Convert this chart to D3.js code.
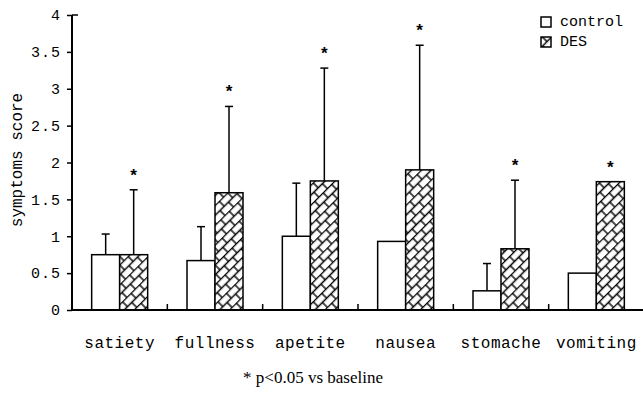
<!DOCTYPE html>
<html>
<head>
<meta charset="utf-8">
<script src="https://cdn.jsdelivr.net/npm/d3@7"></script>
<style>
  html, body { margin: 0; padding: 0; background: #fff; overflow: hidden; }
  svg { display: block; }
  svg text { fill: #000; }
</style>
</head>
<body>
<div id="chart"></div>
<script>
// data
const categories = ["satiety", "fullness", "apetite", "nausea", "stomache", "vomiting"];
const controlValues = [0.75, 0.67, 1.0, 0.93, 0.26, 0.5];
const controlErrors = [0.28, 0.46, 0.72, 0, 0.37, 0];
const desValues = [0.75, 1.59, 1.75, 1.90, 0.83, 1.74];
const desErrors = [0.88, 1.17, 1.53, 1.69, 0.93, 0];
const significant = [true, true, true, true, true, true];
const yTicks = [0, 0.5, 1, 1.5, 2, 2.5, 3, 3.5, 4];
const seriesNames = ["control", "DES"];

const width = 643;
const height = 394;
const margin = { left: 72, right: -1, top: 15, bottom: 84 };
const innerWidth = width - margin.left - margin.right;
const innerHeight = height - margin.top - margin.bottom;

const mono = "'Liberation Mono', 'DejaVu Sans Mono', monospace";

const svg = d3.select("#chart")
  .append("svg")
  .attr("width", width)
  .attr("height", height);

// hatch pattern (diagonal bricks)
const defs = svg.append("defs");
const pat = defs.append("pattern")
  .attr("id", "brick")
  .attr("patternUnits", "userSpaceOnUse")
  .attr("width", 12)
  .attr("height", 14)
  .attr("patternTransform", "rotate(-45)");
pat.append("rect").attr("width", 12).attr("height", 14).attr("fill", "#fff");
pat.append("path")
  .attr("d", "M0,0.5H12 M0,7.5H12 M1,0.5V7.5 M7,7.5V14")
  .attr("stroke", "#000")
  .attr("stroke-width", 1.4)
  .attr("fill", "none");

const g = svg.append("g")
  .attr("transform", `translate(${margin.left}, ${margin.top})`);

const x = d3.scaleBand()
  .domain(categories)
  .range([0, innerWidth])
  .padding(0);

const barW = 28;
const xSub = d3.scaleBand()
  .domain(seriesNames)
  .range([x.bandwidth() / 2 - barW, x.bandwidth() / 2 + barW])
  .padding(0);

const y = d3.scaleLinear()
  .domain([0, 4])
  .range([innerHeight, 0]);

const rows = categories.map((c, i) => ({
  cat: c,
  bars: [
    { key: "control", value: controlValues[i], err: controlErrors[i], star: false },
    { key: "DES", value: desValues[i], err: desErrors[i], star: significant[i] }
  ]
}));

// bars
const group = g.append("g")
  .selectAll("g")
  .data(rows)
  .enter()
  .append("g")
  .attr("transform", d => `translate(${x(d.cat)},0)`);

// error bars (drawn first, bar covers the lower part)
const errs = group.selectAll(".err")
  .data(d => d.bars.filter(b => b.err > 0))
  .enter()
  .append("g")
  .attr("class", "err");

errs.append("line")
  .attr("x1", d => xSub(d.key) + xSub.bandwidth() / 2)
  .attr("x2", d => xSub(d.key) + xSub.bandwidth() / 2)
  .attr("y1", d => y(d.value))
  .attr("y2", d => y(d.value + d.err))
  .attr("stroke", "#000")
  .attr("stroke-width", 1.5);

errs.append("line")
  .attr("x1", d => xSub(d.key) + xSub.bandwidth() / 2 - 4)
  .attr("x2", d => xSub(d.key) + xSub.bandwidth() / 2 + 4)
  .attr("y1", d => y(d.value + d.err))
  .attr("y2", d => y(d.value + d.err))
  .attr("stroke", "#000")
  .attr("stroke-width", 1.5);

group.selectAll("rect")
  .data(d => d.bars)
  .enter()
  .append("rect")
  .attr("x", d => xSub(d.key))
  .attr("y", d => y(d.value))
  .attr("width", xSub.bandwidth())
  .attr("height", d => innerHeight - y(d.value))
  .attr("fill", d => d.key === "DES" ? "url(#brick)" : "#fff")
  .attr("stroke", "#000")
  .attr("stroke-width", 1.5);

// significance stars
group.selectAll(".star")
  .data(d => d.bars.filter(b => b.star))
  .enter()
  .append("text")
  .attr("class", "star")
  .attr("x", d => xSub(d.key) + xSub.bandwidth() / 2)
  .attr("y", d => y(d.value + d.err) - 9)
  .attr("text-anchor", "middle")
  .style("font-family", mono)
  .style("font-size", "17px")
  .style("font-weight", "bold")
  .text("*");

// y axis
const yAxis = g.append("g")
  .call(d3.axisLeft(y).tickValues(yTicks).tickSize(5).tickPadding(6)
    .tickFormat(d => d3.format("")(d)));
yAxis.select(".domain").attr("stroke-width", 2).attr("d", `M0,0V${innerHeight}`);
yAxis.selectAll(".tick line").attr("stroke-width", 1.5);
yAxis.selectAll(".tick text")
  .style("font-family", mono)
  .style("font-size", "15px")
  .style("letter-spacing", "1px");
// top tick turns right in the original
g.append("line")
  .attr("x1", 0).attr("x2", 6)
  .attr("y1", y(4)).attr("y2", y(4))
  .attr("stroke", "#000").attr("stroke-width", 1.5);

// x axis
const xAxis = g.append("g")
  .attr("transform", `translate(0, ${innerHeight})`)
  .call(d3.axisBottom(x).tickSize(0).tickPadding(27));
xAxis.select(".domain").attr("stroke-width", 2).attr("d", `M0,0H${innerWidth}`);
xAxis.selectAll(".tick line").remove();
xAxis.selectAll(".tick text")
  .style("font-family", mono)
  .style("font-size", "16px")
  .style("letter-spacing", "0.5px");

// category separators
g.append("g")
  .selectAll("line")
  .data(categories.slice(1))
  .enter()
  .append("line")
  .attr("x1", d => x(d))
  .attr("x2", d => x(d))
  .attr("y1", innerHeight)
  .attr("y2", innerHeight - 6)
  .attr("stroke", "#000")
  .attr("stroke-width", 1.5);

// y label
svg.append("text")
  .attr("transform", "rotate(-90)")
  .attr("x", -160)
  .attr("y", 22)
  .attr("text-anchor", "middle")
  .style("font-family", mono)
  .style("font-size", "16px")
  .text("symptoms score");

// footnote
svg.append("text")
  .attr("x", 313)
  .attr("y", 383)
  .attr("text-anchor", "middle")
  .style("font-family", "'Liberation Serif', serif")
  .style("font-size", "17px")
  .text("* p<0.05 vs baseline");

// legend
const legend = svg.append("g")
  .attr("transform", "translate(541, 17)");

const legendItem = legend.selectAll("g")
  .data(seriesNames)
  .enter()
  .append("g")
  .attr("transform", (d, i) => `translate(0, ${i * 20})`);

legendItem.append("rect")
  .attr("width", 10)
  .attr("height", 10)
  .attr("fill", d => d === "DES" ? "url(#brick)" : "#fff")
  .attr("stroke", "#000")
  .attr("stroke-width", 1.5);

legendItem.append("text")
  .attr("x", 19)
  .attr("y", 9)
  .style("font-family", mono)
  .style("font-size", "15px")
  .text(d => d);
</script>
</body>
</html>
